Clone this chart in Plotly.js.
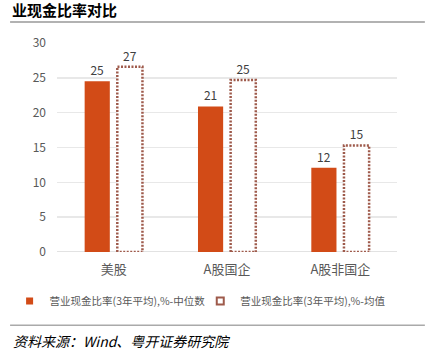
<!DOCTYPE html>
<html><head><meta charset="utf-8">
<script src="https://cdn.plot.ly/plotly-3.0.1.min.js"></script>
<style>html,body{margin:0;padding:0;background:#fff;}#chart{width:434px;height:358px;}</style>
</head><body><div id="chart"></div>
<script>
const categories = ['美股', 'A股国企', 'A股非国企'];
const medianValues = [24.5, 20.9, 12.1];
const meanValues = [26.6, 24.7, 15.3];
const medianName = '营业现金比率(3年平均),%-中位数';
const meanName = '营业现金比率(3年平均),%-均值';
const yTicks = [0, 5, 10, 15, 20, 25, 30];

const xIdx = categories.map((c, i) => i);
const barW = 0.222, medOff = -0.256, meanOff = 0.032;
const font = '"Noto Sans CJK SC", "Noto Sans", sans-serif';

// dotted outline for mean bars, built from the data
const ox = [], oy = [];
meanValues.forEach((v, i) => {
  const x0 = i + meanOff, x1 = x0 + barW;
  ox.push(x0, x0, x1, x1, x0, null);
  oy.push(0, v, v, 0, 0, null);
});

const traces = [
  {type: 'bar', x: xIdx, y: medianValues, name: medianName, width: barW, offset: medOff,
   marker: {color: '#d24b17', line: {width: 0}}, showlegend: false,
   text: medianValues.map(v => Math.round(v)), textposition: 'outside', cliponaxis: false,
   textfont: {size: 12, color: '#404040', family: font}, hoverinfo: 'none'},
  {type: 'bar', x: xIdx, y: meanValues, name: meanName, width: barW, offset: meanOff,
   marker: {color: '#ffffff', line: {width: 0}}, showlegend: false,
   text: meanValues.map(v => Math.round(v)), textposition: 'outside', cliponaxis: false,
   textfont: {size: 12, color: '#404040', family: font}, hoverinfo: 'none'},
  {type: 'scatter', mode: 'lines', x: ox, y: oy, showlegend: false, hoverinfo: 'none',
   line: {color: '#9e5a4b', width: 2.5, dash: '2px,1.5px'}},
  {type: 'scatter', mode: 'markers', x: [null], y: [null], name: medianName,
   marker: {symbol: 'square', size: 7, color: '#d24b17'}},
  {type: 'scatter', mode: 'markers', x: [null], y: [null], name: meanName,
   marker: {symbol: 'square-open', size: 7, color: '#9e5a4b', line: {width: 2}}}
];

const layout = {
  width: 434, height: 358,
  margin: {l: 57, r: 37, t: 43, b: 106},
  paper_bgcolor: '#fff', plot_bgcolor: '#fff',
  font: {family: font, color: '#595959'},
  barmode: 'overlay',
  showlegend: true,
  xaxis: {range: [-0.5, 2.5], tickvals: xIdx, ticktext: categories, showgrid: false,
          zeroline: false, showline: false, ticks: '', tickfont: {size: 13, color: '#595959'},
          ticklabelstandoff: 8, fixedrange: true},
  yaxis: {range: [0, 30], tickvals: yTicks, showgrid: true, gridcolor: '#e8e8e8', gridwidth: 1.5,
          zeroline: false, showline: false, ticks: '', tickfont: {size: 12, color: '#595959'},
          ticklabelstandoff: 10, fixedrange: true},
  legend: {orientation: 'h', x: -0.11, xanchor: 'left', y: -0.235, yanchor: 'middle',
           font: {size: 10.5, color: '#595959'}, itemwidth: 30, indentation: -10,
           tracegroupgap: 0, traceorder: 'normal', bgcolor: 'rgba(0,0,0,0)'},
  annotations: [
    {text: '业现金比率对比', xref: 'paper', yref: 'paper', x: -0.138, y: 1.16,
     xanchor: 'left', yanchor: 'middle', showarrow: false,
     font: {size: 15, color: '#000', family: font, weight: 'bold'}},
    {text: '<i>资料来源：Wind、粤开证券研究院</i>', xref: 'paper', yref: 'paper', x: -0.135, y: -0.425,
     xanchor: 'left', yanchor: 'middle', showarrow: false,
     font: {size: 14, color: '#000', family: font}}
  ],
  shapes: [
    {type: 'line', xref: 'paper', yref: 'paper', x0: -0.138, x1: 1.082, y0: 1.1, y1: 1.1,
     line: {color: '#999', width: 1.5}},
    {type: 'line', xref: 'paper', yref: 'paper', x0: -0.138, x1: 1.082, y0: -0.35, y1: -0.35,
     line: {color: '#aaa', width: 1.5}},
    {type: 'line', xref: 'paper', yref: 'y', x0: 0, x1: 1, y0: 0, y1: 0,
     line: {color: '#d9d9d9', width: 1.5}, layer: 'below'}
  ]
};

Plotly.newPlot('chart', traces, layout, {displayModeBar: false, staticPlot: true});
</script></body></html>
